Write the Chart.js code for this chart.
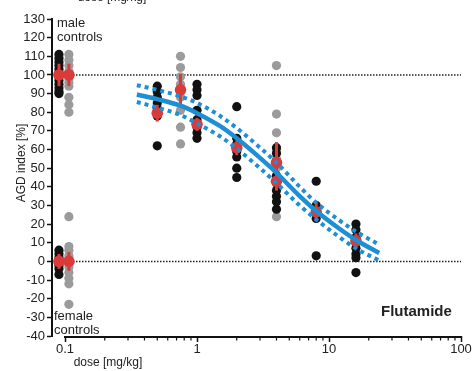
<!DOCTYPE html>
<html>
<head>
<meta charset="utf-8">
<script src="https://cdn.jsdelivr.net/npm/chart.js@4"></script>
<style>
  body { margin: 0; background: #fff; }
  #wrap { width: 473px; height: 371px; position: relative; }
</style>
</head>
<body>
<div id="wrap"><canvas id="chartCanvas"></canvas></div>
<script>
// Controles (posição na escala de dose)
const ctrlDoseBlack = 0.09;
const ctrlDoseGray = 0.107;
const maleCtrlBlack = [111, 109, 107, 105, 103, 101, 99, 97, 95, 93, 91, 90];
const maleCtrlGray = [111, 108, 105, 102, 100, 98, 96, 94, 88, 84, 80];
const femaleCtrlBlack = [6, 4, 2, 0, -2, -4, -7];
const femaleCtrlGray = [24, 8, 6, 3, 0, -3, -6, -9, -12, -23];

// Grupos tratados
const blackDoses = [0.5, 1, 2, 4, 8, 16];
const blackValues = [
    [94, 91, 88, 85, 82, 78, 62],
    [95, 92, 89, 81, 76, 72, 69, 66],
    [83, 66, 63, 59, 56, 50, 45],
    [61, 58, 46, 42, 38, 35, 32, 28],
    [43, 30, 28, 26, 23, 3],
    [20, 17, 13, 10, 7, 4, 2, -6]
];
const grayDoses = [0.75, 4];
const grayValues = [
    [110, 104, 99, 95, 92, 88, 81, 72, 63],
    [105, 79, 69, 60, 55, 50, 45, 24]
];

// Médias e desvios (vermelho)
const meanDoses = [ctrlDoseBlack, ctrlDoseGray, ctrlDoseBlack, ctrlDoseGray, 0.5, 0.75, 1, 2, 4, 4, 8, 16];
const meanValues = [100, 100, 0, 0, 79.5, 92, 73.5, 61, 53, 43, 26.5, 11];
const meanSD = [6, 6, 4, 5, 4.5, 8.5, 3.5, 4, 11, 5, 5, 4];

// Curva ajustada e intervalo de confiança
const fitDoses = [0.35, 0.5, 0.75, 1, 1.5, 2, 3, 4, 6, 8, 12, 16, 24];
const fitMid = [89.5, 87, 83.5, 79.5, 72.5, 66, 55.5, 47.5, 35, 27, 17.5, 11.5, 4.5];
const fitUpper = [94.5, 92, 88.5, 85, 78, 71.5, 61, 53, 40, 31.5, 22, 16, 9];
const fitLower = [85.5, 82.5, 78.5, 74, 67, 60.5, 50, 42, 30, 22.5, 13, 7, 0.5];

// Eixos
const xTicks = [0.1, 1, 10, 100];
const xMinorTicks = [0.2, 0.3, 0.4, 0.5, 0.6, 0.7, 0.8, 0.9, 2, 3, 4, 5, 6, 7, 8, 9, 20, 30, 40, 50, 60, 70, 80, 90];
const refLines = [100, 0];

const FONT = '"Liberation Sans", Arial, sans-serif';
const BLUE = '#1e8fd5';
const RED = '#db3a3a';

function pts(dose, vals) {
    return vals.map(v => ({ x: dose, y: v }));
}

const blackPts = pts(ctrlDoseBlack, maleCtrlBlack).concat(pts(ctrlDoseBlack, femaleCtrlBlack));
blackDoses.forEach((d, i) => { blackPts.push(...pts(d, blackValues[i])); });
const grayPts = pts(ctrlDoseGray, maleCtrlGray).concat(pts(ctrlDoseGray, femaleCtrlGray));
grayDoses.forEach((d, i) => { grayPts.push(...pts(d, grayValues[i])); });
const meanPts = meanDoses.map((d, i) => ({ x: d, y: meanValues[i] }));

const xMin = 0.0797, xMax = 100;

const datasets = [];
refLines.forEach(v => {
    datasets.push({
        data: [{ x: xMin, y: v }, { x: xMax, y: v }],
        showLine: true, pointRadius: 0, borderColor: '#222', borderWidth: 1.5,
        borderDash: [1.5, 1.5], order: 5
    });
});
datasets.push({ data: blackPts, pointRadius: 4.6, backgroundColor: '#111', borderWidth: 0, order: 3 });
datasets.push({ data: grayPts, pointRadius: 4.6, backgroundColor: '#9b9b9b', borderWidth: 0, order: 4 });
datasets.push({ data: meanPts, pointRadius: 5.8, backgroundColor: RED, borderWidth: 0, order: 2, isMean: true });
[fitUpper, fitLower].forEach(arr => {
    datasets.push({
        data: fitDoses.map((d, i) => ({ x: d, y: arr[i] })),
        showLine: true, pointRadius: 0, borderColor: BLUE, borderWidth: 4,
        borderDash: [4, 4], cubicInterpolationMode: 'monotone', order: 1
    });
});
datasets.push({
    data: fitDoses.map((d, i) => ({ x: d, y: fitMid[i] })),
    showLine: true, pointRadius: 0, borderColor: BLUE, borderWidth: 4.5,
    cubicInterpolationMode: 'monotone', order: 0
});

// Barras de desvio, eixo x parcial e textos
const extras = {
    id: 'extras',
    beforeDatasetDraw(chart, args) {
        if (!args.meta._dataset.isMean) return;
        const c = chart.ctx, x = chart.scales.x, y = chart.scales.y;
        c.save();
        c.strokeStyle = RED;
        c.lineWidth = 3;
        meanDoses.forEach((d, i) => {
            const px = x.getPixelForValue(d);
            c.beginPath();
            c.moveTo(px, y.getPixelForValue(meanValues[i] + meanSD[i]));
            c.lineTo(px, y.getPixelForValue(meanValues[i] - meanSD[i]));
            c.stroke();
        });
        c.restore();
    },
    afterDraw(chart) {
        const c = chart.ctx, x = chart.scales.x, y = chart.scales.y;
        const base = chart.chartArea.bottom + 1;
        c.save();
        c.strokeStyle = '#111';
        c.lineWidth = 2;
        c.beginPath();
        c.moveTo(x.getPixelForValue(0.1) - 1, base);
        c.lineTo(x.getPixelForValue(100) + 1, base);
        c.stroke();
        c.lineWidth = 1.2;
        xMinorTicks.forEach(t => {
            const px = x.getPixelForValue(t);
            c.beginPath();
            c.moveTo(px, base);
            c.lineTo(px, base + 3.5);
            c.stroke();
        });

        c.fillStyle = '#222';
        c.font = '13px ' + FONT;
        c.textAlign = 'left';
        c.textBaseline = 'middle';
        c.fillText('male', 57, 23);
        c.fillText('controls', 57, 37);
        c.fillText('female', 54, 316);
        c.fillText('controls', 54, 330);
        c.font = 'bold 15px ' + FONT;
        c.fillText('Flutamide', 381, 312);

        c.font = '12px ' + FONT;
        c.textAlign = 'center';
        c.fillText('dose [mg/kg]', 108, 363);
        c.textBaseline = 'alphabetic';
        c.fillText('dose [mg/kg]', 112, 1);

        c.translate(22, 163);
        c.rotate(-Math.PI / 2);
        c.textBaseline = 'middle';
        c.fillText('AGD index [%]', 0, 0);
        c.restore();
    }
};

const ctx = document.getElementById('chartCanvas').getContext('2d');
new Chart(ctx, {
    type: 'scatter',
    data: { datasets: datasets },
    plugins: [extras],
    options: {
        responsive: true,
        maintainAspectRatio: false,
        animation: false,
        layout: { padding: { left: 0, right: 12, top: 19, bottom: 0 } },
        plugins: { legend: { display: false }, tooltip: { enabled: false } },
        scales: {
            x: {
                type: 'logarithmic',
                min: xMin,
                max: xMax,
                afterBuildTicks: (s) => { s.ticks = xTicks.map(v => ({ value: v })); },
                afterFit: (s) => { s.height = 35; },
                border: { display: false },
                grid: { drawOnChartArea: false, tickLength: 6, tickWidth: 1.5, tickColor: '#111' },
                ticks: {
                    padding: 0,
                    color: '#222',
                    font: { family: FONT, size: 13 },
                    maxRotation: 0,
                    autoSkip: false,
                    callback: (v) => String(v)
                }
            },
            y: {
                min: -40,
                max: 130,
                afterFit: (s) => { s.width = 52; },
                border: { display: true, color: '#111', width: 2 },
                grid: { drawOnChartArea: false, tickLength: 5, tickWidth: 1.5, tickColor: '#111' },
                ticks: {
                    stepSize: 10,
                    padding: 2,
                    color: '#222',
                    font: { family: FONT, size: 13 }
                }
            }
        }
    }
});
</script>
</body>
</html>
